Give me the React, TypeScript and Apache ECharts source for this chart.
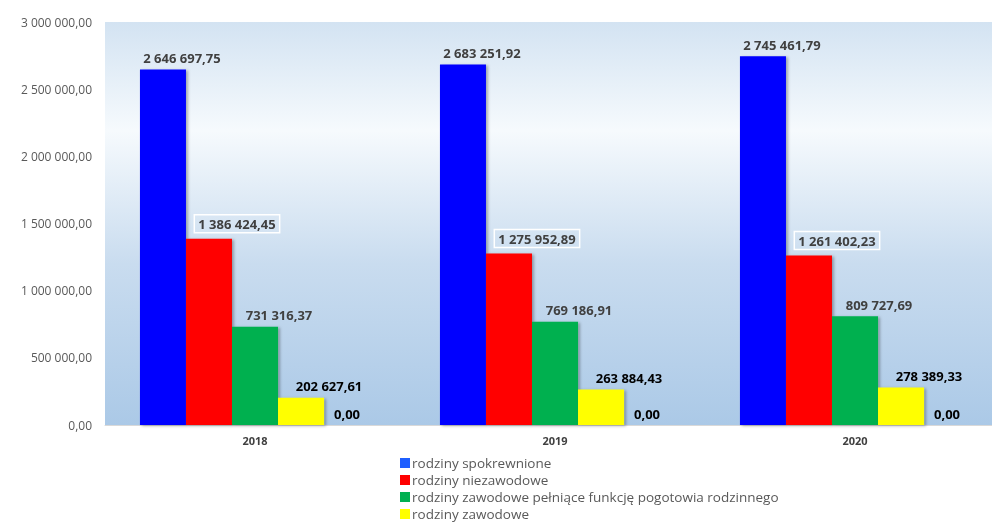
import React, { useEffect, useRef } from "react";
import * as echarts from "echarts";

const categories = ["2018", "2019", "2020"];
const seriesNames = [
  "rodziny spokrewnione",
  "rodziny niezawodowe",
  "rodziny zawodowe pełniące funkcję pogotowia rodzinnego",
  "rodziny zawodowe",
  "pozostałe",
];
const spokrewnione = [2646697.75, 2683251.92, 2745461.79];
const niezawodowe = [1386424.45, 1275952.89, 1261402.23];
const pogotowie = [731316.37, 769186.91, 809727.69];
const zawodowe = [202627.61, 263884.43, 278389.33];
const pozostale = [0, 0, 0];
const colors = ["#0000FF", "#FF0000", "#00B050", "#FFFF00", "#7F7F7F"];
const legendColors = ["#1F5FFF", "#FF0000", "#00B050", "#FFFF00"];

function fmt(v: number): string {
  const fixed = Math.abs(v).toFixed(2);
  const [intPart, dec] = fixed.split(".");
  const withSpaces = intPart.replace(/\B(?=(\d{3})+(?!\d))/g, " ");
  return (v < 0 ? "-" : "") + withSpaces + "," + dec;
}

export default function App() {
  const ref = useRef<HTMLDivElement>(null);
  useEffect(() => {
    if (!ref.current) return;
    const chart = echarts.init(ref.current, undefined, { renderer: "svg" });
    const data = [spokrewnione, niezawodowe, pogotowie, zawodowe, pozostale];
    const offsets = [19, 28, 24, 28, 0];
    const series = data.map((d, i) => ({
      name: seriesNames[i],
      type: "bar",
      data: d,
      barGap: "0%",
      barCategoryGap: "23.3%",
      itemStyle: {
        color: colors[i],
        shadowBlur: 3,
        shadowColor: "rgba(0,0,0,0.3)",
        shadowOffsetX: 2,
        shadowOffsetY: 1,
      },
      label: {
        show: true,
        position: "top",
        distance: i === 1 ? 6 : 5,
        offset: [offsets[i], 0],
        formatter: (p: any) => fmt(p.value),
        fontFamily: "Open Sans",
        fontWeight: "bold",
        fontSize: 13,
        color: i >= 3 ? "#000000" : "#404040",
        ...(i === 1
          ? { borderColor: "#FFFFFF", borderWidth: 1.5, padding: [3, 4, 2, 4] }
          : {}),
      },
    }));
    chart.setOption({
      animation: false,
      grid: {
        left: 105,
        width: 900,
        top: 22,
        bottom: 104,
        outerBoundsMode: "none",
        show: true,
        borderWidth: 0,
        backgroundColor: {
          type: "linear",
          x: 0,
          y: 0,
          x2: 0,
          y2: 1,
          colorStops: [
            { offset: 0, color: "#D3E3F2" },
            { offset: 0.27, color: "#F6FAFD" },
            { offset: 0.6, color: "#C9DCEF" },
            { offset: 1, color: "#ABC9E7" },
          ],
        },
      },
      legend: {
        data: seriesNames.slice(0, 4).map((n, i) => ({
          name: n,
          itemStyle: { color: legendColors[i] },
        })),
        orient: "vertical",
        left: 395,
        top: 451,
        height: 200,
        itemWidth: 10,
        itemHeight: 10,
        itemGap: 3,
        icon: "rect",
        textStyle: {
          fontFamily: "Open Sans",
          fontSize: 13.5,
          color: "#595959",
          lineHeight: 13,
          padding: [0, 0, 0, -3],
        },
      },
      xAxis: {
        type: "category",
        data: categories,
        axisLine: { lineStyle: { color: "#D9D9D9" } },
        axisTick: { show: false },
        axisLabel: {
          fontFamily: "Open Sans",
          fontWeight: "bold",
          fontSize: 11,
          color: "#404040",
          margin: 10,
        },
      },
      yAxis: {
        type: "value",
        min: 0,
        max: 3000000,
        interval: 500000,
        axisLine: { show: false },
        axisTick: { show: false },
        splitLine: { show: false },
        axisLabel: {
          formatter: (v: number) => fmt(v),
          fontFamily: "Open Sans",
          fontSize: 12,
          color: "#595959",
          margin: 13,
        },
      },
      series,
    });
    return () => chart.dispose();
  }, []);
  return (
    <div
      ref={ref}
      style={{ position: "fixed", left: 0, top: 0, width: 992, height: 529 }}
    />
  );
}
